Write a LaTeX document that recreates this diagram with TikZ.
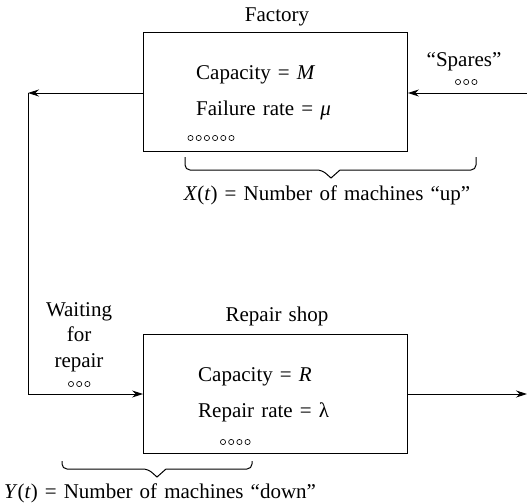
\documentclass[tikz,border=0pt]{standalone}
\usepackage{fontspec}
\setmainfont{Liberation Serif}[WordSpace=1.35]
\usetikzlibrary{arrows.meta}
\begin{document}
\begin{tikzpicture}[x=1pt,y=-1pt,
  every node/.style={font=\fontsize{21}{24}\selectfont, inner sep=0pt},
  station/.style={draw, line width=0.9pt, minimum width=264pt, minimum height=119pt},
  flow/.style={line width=0.9pt, -{Stealth[length=11pt,width=7pt]}},
  plainline/.style={line width=0.9pt},
  brace/.style={line width=1pt, line join=miter},
  unit/.style={circle, draw, line width=0.65pt, minimum size=5.2pt, inner sep=0pt}]
\useasboundingbox (0,0) rectangle (527,503);

% stations
\node[station] (factory) at (275.5,91.5) {};
\node[station] (repair)  at (275.5,393.5) {};
\node (factorylbl) at (277,17) {Factory};
\node (repairlbl)  at (277,316) {Repair shop};

% station contents
\node[anchor=west] (capM) at (196,75) {Capacity = \textit{M}};
\node[anchor=west] (failmu) at (196,110) {Failure rate = \textit{μ}};
\node[anchor=west] (capR) at (198,377) {Capacity = \textit{R}};
\node[anchor=west] (replam) at (198,412) {Repair rate = λ};

% machines shown as small circles
\foreach \i in {0,...,5} \node[unit] (fm\i) at (190.5+8.2*\i,138) {};
\foreach \i in {0,...,3} \node[unit] (rm\i) at (223+8.2*\i,442) {};
\foreach \i in {0,...,2} \node[unit] (sp\i) at (458+8.2*\i,82) {};
\foreach \i in {0,...,2} \node[unit] (wt\i) at (71+8.2*\i,384) {};

% side labels
\node (spares) at (464,62) {“Spares”};
\node[align=center, font=\fontsize{21}{25.5}\selectfont] (waiting) at (79,337) {Waiting\\for\\repair};

% flow of machines
\coordinate (sparein) at (527,93);
\coordinate (turn) at (28,93);
\coordinate (turndown) at (28,394);
\coordinate (fixedout) at (527,394);
\draw[flow] (sparein) -- (sparein -| factory.east);
\draw[flow] (turn -| factory.west) -- (turn);
\draw[plainline] (turn) -- (turndown);
\draw[flow] (turndown) -- (turndown -| repair.west);
\draw[flow] (fixedout -| repair.east) -- (fixedout);

% braces
\draw[brace] (185,157) [rounded corners=5pt] -- (185,170) -- (322,170) [sharp corners] -- (331,178) -- (340,170) [rounded corners=5pt] -- (476,170) -- (476,157);
\draw[brace] (62,461) [rounded corners=5pt] -- (62,469) -- (148,469) [sharp corners] -- (157,477) -- (166,469) [rounded corners=5pt] -- (252,469) -- (252,461);
\node (xlbl) at (327,195) {\textit{X}(\textit{t}) = Number of machines “up”};
\node (ylbl) at (160,493) {\textit{Y}(\textit{t}) = Number of machines “down”};
\end{tikzpicture}
\end{document}
